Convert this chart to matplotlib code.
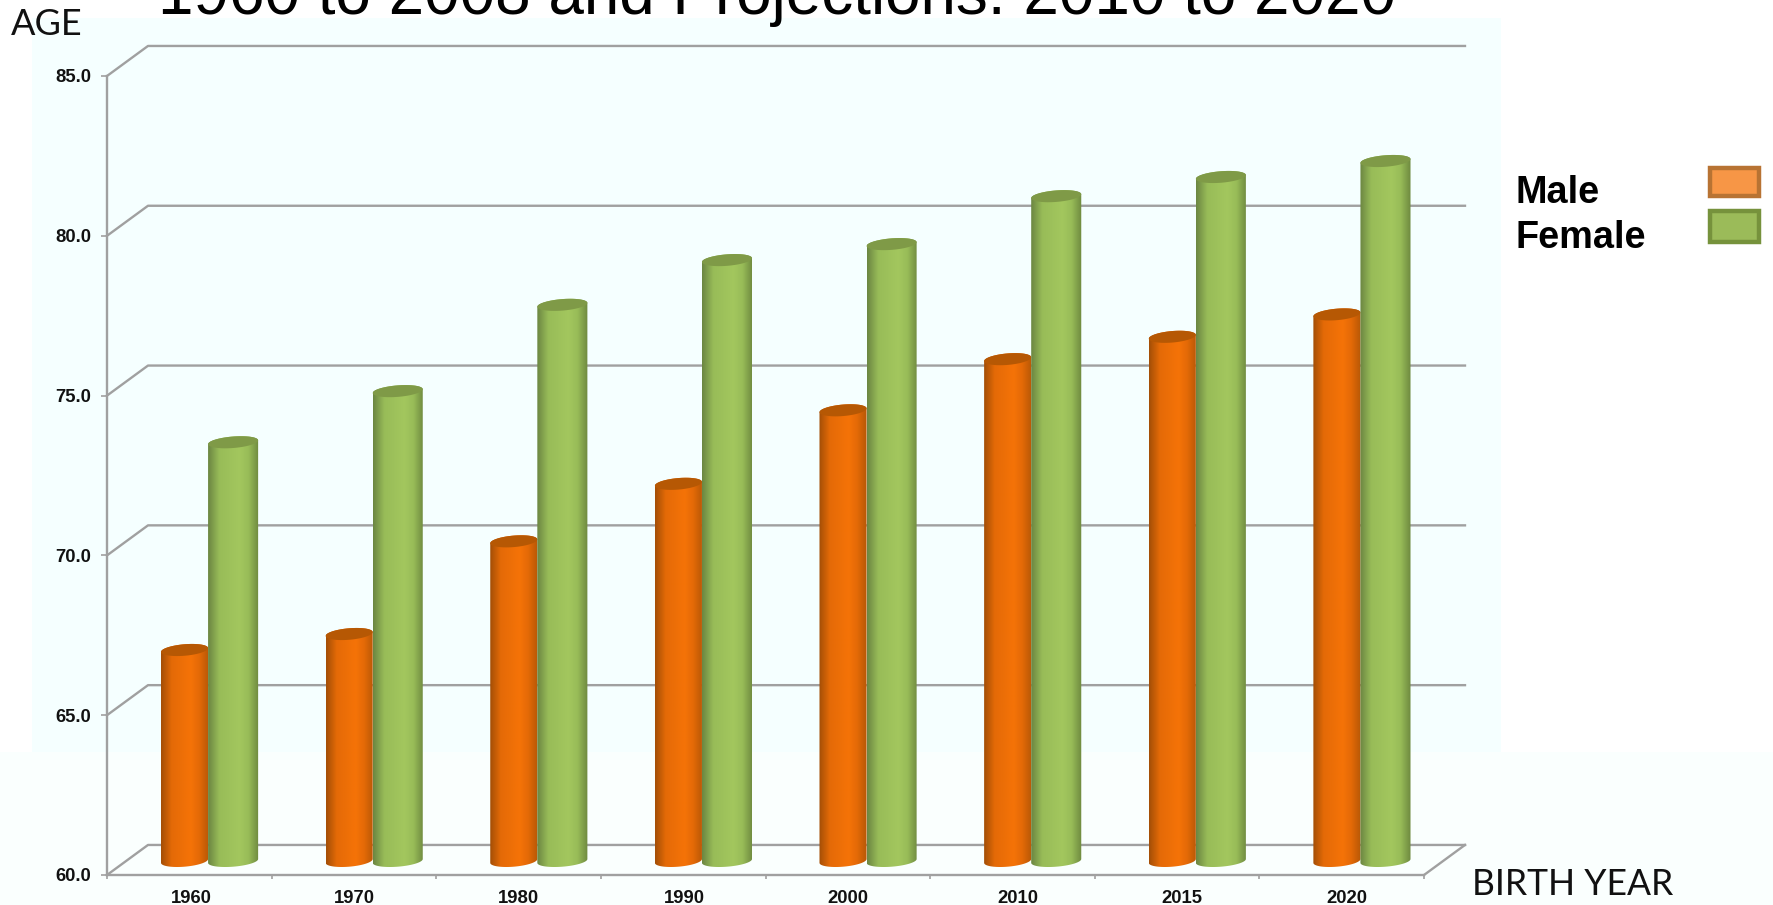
import numpy as np
import matplotlib
matplotlib.use('Agg')
import matplotlib.pyplot as plt
from matplotlib.patches import Rectangle, Polygon

years = ['1960', '1970', '1980', '1990', '2000', '2010', '2015', '2020']
male = [66.6, 67.1, 70.0, 71.8, 74.1, 75.7, 76.4, 77.1]
female = [73.1, 74.7, 77.4, 78.8, 79.3, 80.8, 81.4, 81.9]
yticks = [60, 65, 70, 75, 80, 85]
title = '1960 to 2008 and Projections: 2010 to 2020'
# the year labels drift a little to the right of the slot centres in the original
label_shift = [0.01, 0, 0, 0.01, 0, 0.03, 0.03, 0.03]

W, H = 1773, 905
# oblique offset of the back wall, in data units
depth_x, depth_y = 0.249, 0.94

orange = {'dark': '#A44F06', 'soft': '#E46A07', 'mid': '#F57307', 'right': '#B85806', 'top': '#B65804'}
green = {'dark': '#6C8742', 'soft': '#98BC58', 'mid': '#A3C75E', 'right': '#6F8A40', 'top': '#7F9A47'}


def hex_rgb(c):
    return np.array(matplotlib.colors.to_rgb(c))


def shade(c):
    t = np.linspace(0, 1, 64)
    stops = [0, 0.22, 0.62, 0.8, 1]
    cols = [hex_rgb(c[k]) for k in ['dark', 'soft', 'mid', 'soft', 'right']]
    out = np.zeros((1, 64, 3))
    for k in range(3):
        out[0, :, k] = np.interp(t, stops, [q[k] for q in cols])
    return out


def ring(cx, cy, w, a, b):
    # tilted ellipse arc from angle a to b
    t = np.linspace(a, b, 50)
    x = cx + w * np.cos(t)
    y = cy + 0.18 * np.sin(t) + 0.06 * np.cos(t)
    return np.column_stack([x, y])


def cylinder(ax, left, width, value, c):
    w = width / 2
    cx = left + w
    base = 60 + depth_y / 2 - 0.03
    top = base + value - 60
    img = ax.imshow(shade(c), extent=[left, left + width, base - 0.3, top + 0.3],
                    aspect='auto', interpolation='bilinear', zorder=3)
    body = np.vstack([ring(cx, top, w, 0, np.pi), ring(cx, base, w, np.pi, 2 * np.pi)])
    clip = Polygon(body, closed=True, transform=ax.transData)
    img.set_clip_path(clip)
    ax.add_patch(Polygon(ring(cx, top, w, 0, 2 * np.pi), closed=True, fc=c['top'], ec='none', zorder=3))


fig = plt.figure(figsize=(W / 100, H / 100), dpi=100, facecolor='white')


def px_rect(x0, y0, x1, y1, **kw):
    fig.add_artist(Rectangle((x0 / W, 1 - y1 / H), (x1 - x0) / W, (y1 - y0) / H,
                             transform=fig.transFigure, **kw))


# page background, pale panel behind the chart
px_rect(0, 752, W, H, fc='#FAFFFE', ec='none', zorder=-5)
px_rect(32, 18, 1501, 752, fc='#F5FFFF', ec='none', zorder=-5)

ax = fig.add_axes([107 / W, 1 - 875 / H, 1317 / W, 799 / H])
ax.patch.set_alpha(0)
for s in ['top', 'right']:
    ax.spines[s].set_visible(False)
for s in ['left', 'bottom']:
    ax.spines[s].set_color('#A0A0A0')
    ax.spines[s].set_linewidth(1.7)

gray = '#A0A0A0'
for v in yticks:
    ax.plot([0, depth_x, 8 + depth_x], [v, v + depth_y, v + depth_y], color=gray, lw=1.7,
            clip_on=False, zorder=1)
ax.plot([8, 8 + depth_x], [60, 60 + depth_y], color=gray, lw=1.7, clip_on=False, zorder=1)

for i in range(len(years)):
    cylinder(ax, i + 0.328, 0.286, male[i], orange)
    cylinder(ax, i + 0.614, 0.304, female[i], green)

ax.set_xlim(0, 8)
ax.set_ylim(60, 85)
ax.set_yticks(yticks)
ax.set_yticklabels(['%.1f' % v for v in yticks])
ax.set_xticks(range(9))
ax.set_xticklabels([])
ax.set_xticks(np.arange(len(years)) + 0.5 + np.array(label_shift), minor=True)
ax.set_xticklabels(years, minor=True)
ax.tick_params(axis='y', length=4.5, width=1.2, color=gray, pad=7, labelsize=13.3, labelcolor='#111111')
ax.tick_params(axis='x', which='major', length=3, width=1.2, color=gray)
ax.tick_params(axis='x', which='minor', length=0, pad=11, labelsize=13.3, labelcolor='#111111')
for t in ax.get_yticklabels() + ax.get_xticklabels(minor=True):
    t.set_fontfamily('Liberation Sans')
    t.set_fontweight('bold')

fig.text(158 / W, 1 - 14 / H, title, fontsize=45.9, family='Liberation Sans', color='black', va='baseline')
fig.text(11 / W, 1 - 35 / H, 'AGE', fontsize=26, family='Lato', color='#111111', va='baseline')
fig.text(1472 / W, 1 - 895 / H, 'BIRTH YEAR', fontsize=25.6, family='Lato', color='#111111', va='baseline')
fig.text(1516 / W, 1 - 203 / H, 'Male', fontsize=27.3, family='Liberation Sans', fontweight='bold', va='baseline')
fig.text(1516 / W, 1 - 248 / H, 'Female', fontsize=27.3, family='Liberation Sans', fontweight='bold', va='baseline')

px_rect(1710, 168, 1759, 196, fc='#F79646', ec='#B87333', lw=3.2)
px_rect(1710, 211, 1759, 242, fc='#9BBB59', ec='#76923C', lw=3.2)

fig.savefig('out.png', dpi=100)
